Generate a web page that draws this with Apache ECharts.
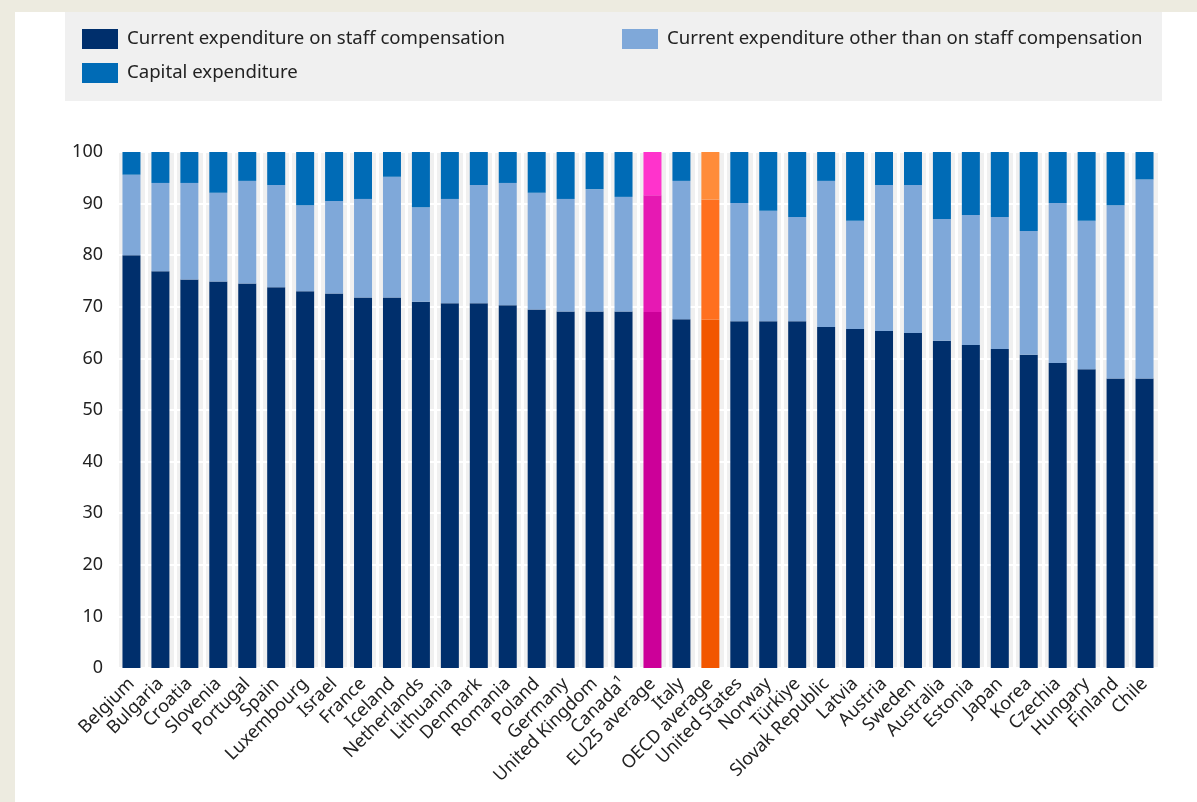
<!DOCTYPE html>
<html>
<head>
<meta charset="utf-8">
<script src="https://cdn.jsdelivr.net/npm/echarts@6/dist/echarts.min.js"></script>
<style>
html,body{margin:0;padding:0;background:#edebe0;}
#chart{width:1197px;height:802px;}
</style>
</head>
<body>
<div id="chart"></div>
<script>
const categories = ["Belgium","Bulgaria","Croatia","Slovenia","Portugal","Spain","Luxembourg","Israel","France","Iceland","Netherlands","Lithuania","Denmark","Romania","Poland","Germany","United Kingdom","Canada¹","EU25 average","Italy","OECD average","United States","Norway","Türkiye","Slovak Republic","Latvia","Austria","Sweden","Australia","Estonia","Japan","Korea","Czechia","Hungary","Finland","Chile"];
const staffComp = [80.0,76.9,75.3,74.9,74.5,73.8,73.0,72.6,71.8,71.8,71.0,70.7,70.7,70.3,69.5,69.1,69.1,69.1,69.0,67.6,67.5,67.2,67.2,67.2,66.1,65.7,65.3,64.9,63.4,62.6,61.8,60.7,59.1,57.9,56.1,56.1];
const otherCurrent = [15.6,17.1,18.7,17.2,19.9,19.8,16.7,17.9,19.1,23.4,18.3,20.2,22.9,23.7,22.6,21.8,23.7,22.2,22.6,26.8,23.3,22.9,21.4,20.2,28.3,21.0,28.3,28.7,23.6,25.2,25.6,24.0,31.0,28.8,33.6,38.6];
const capital = [4.4,6.0,6.0,7.9,5.6,6.4,10.3,9.5,9.1,4.8,10.7,9.1,6.4,6.0,7.9,9.1,7.2,8.7,8.4,5.6,9.2,9.9,11.4,12.6,5.6,13.3,6.4,6.4,13.0,12.2,12.6,15.3,9.9,13.3,10.3,5.3];
const yTicks = [0,10,20,30,40,50,60,70,80,90,100];
const seriesNames = ["Current expenditure on staff compensation","Current expenditure other than on staff compensation","Capital expenditure"];

const baseColors = ['#002f6c', '#7fa8d9', '#006bb6'];
const highlight = {
  "EU25 average": ['#cc0099', '#e619b3', '#ff33cc'],
  "OECD average": ['#f25600', '#ff701f', '#ff8c3a']
};
const seriesValues = [staffComp, otherCurrent, capital];

function buildData(idx) {
  return seriesValues[idx].map((v, i) => {
    const c = categories[i];
    if (highlight[c]) return { value: v, itemStyle: { color: highlight[c][idx] } };
    return v;
  });
}

const chart = echarts.init(document.getElementById('chart'), null, { renderer: 'canvas' });
const font = 'Noto Sans';
const legendBase = {
  selectedMode: false,
  padding: 0,
  itemWidth: 36,
  itemHeight: 20,
  icon: 'rect',
  textStyle: { fontSize: 18.6, color: '#222', fontFamily: font, padding: [0, 0, 0, 4] }
};
chart.setOption({
  backgroundColor: '#edebe0',
  textStyle: { fontFamily: font },
  animation: false,
  graphic: [
    { type: 'rect', shape: { x: 15, y: 12, width: 1182, height: 790 }, style: { fill: '#ffffff' }, z: -10, silent: true },
    { type: 'rect', shape: { x: 65, y: 12, width: 1097, height: 89 }, style: { fill: '#f0f0f0' }, z: -9, silent: true }
  ],
  legend: [
    Object.assign({}, legendBase, { left: 82, top: 29, data: [seriesNames[0]] }),
    Object.assign({}, legendBase, { left: 622, top: 29, data: [seriesNames[1]] }),
    Object.assign({}, legendBase, { left: 82, top: 63, data: [seriesNames[2]] })
  ],
  grid: {
    left: 117, right: 38, top: 152, bottom: 134,
    show: true, backgroundColor: '#f0f0f0', borderWidth: 0
  },
  xAxis: {
    type: 'category',
    data: categories,
    boundaryGap: true,
    axisLine: { show: false },
    axisTick: { show: false },
    splitLine: { show: true, lineStyle: { color: '#ffffff', width: 3 } },
    axisLabel: { rotate: 45, fontSize: 18, color: '#222', margin: 13, interval: 0, fontFamily: font }
  },
  yAxis: {
    type: 'value',
    min: yTicks[0], max: yTicks[yTicks.length - 1], interval: 10,
    axisLine: { show: false },
    axisTick: { show: false },
    splitLine: { show: true, lineStyle: { color: '#ffffff', width: 2 } },
    axisLabel: { fontSize: 18, color: '#222', margin: 14, fontFamily: font }
  },
  series: seriesNames.map((name, idx) => ({
    name: name,
    type: 'bar',
    stack: 'total',
    barWidth: 18,
    itemStyle: { color: baseColors[idx] },
    data: buildData(idx)
  }))
});
</script>
</body>
</html>
